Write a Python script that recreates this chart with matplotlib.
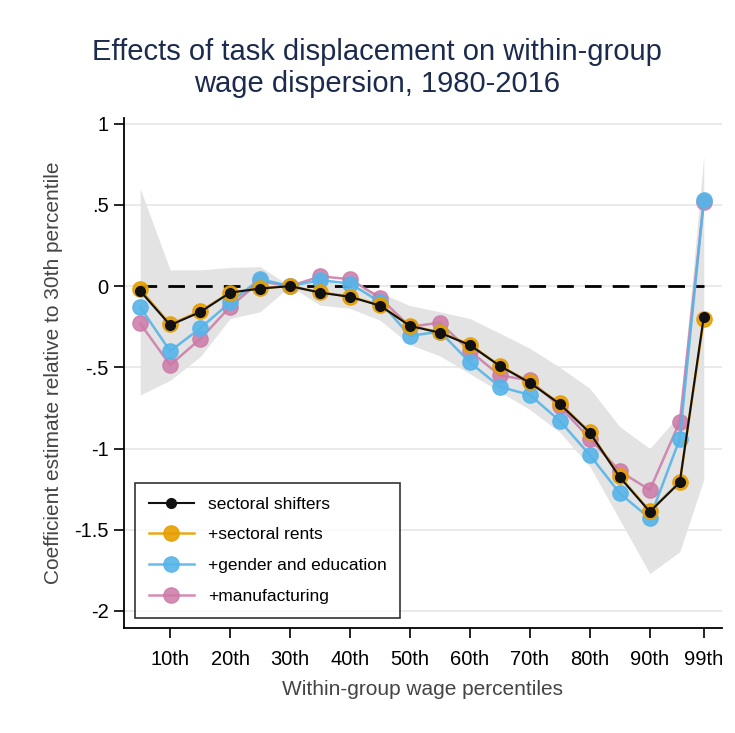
import matplotlib
matplotlib.use("Agg")
from matplotlib import pyplot as plt

plt.rcParams['font.family'] = ['Liberation Sans', 'DejaVu Sans']

pct = [5, 10, 15, 20, 25, 30, 35, 40, 45, 50, 55, 60, 65, 70, 75, 80, 85, 90, 95, 99]

shifters = [-0.03, -0.24, -0.16, -0.04, -0.015, 0.0, -0.04, -0.066, -0.12, -0.245,
            -0.287, -0.363, -0.492, -0.595, -0.726, -0.903, -1.177, -1.389, -1.208, -0.189]
rents = [-0.02, -0.235, -0.155, -0.04, -0.012, 0.0, -0.038, -0.064, -0.118, -0.243,
         -0.285, -0.36, -0.49, -0.592, -0.722, -0.9, -1.172, -1.385, -1.205, -0.205]
gender_edu = [-0.13, -0.40, -0.26, -0.10, 0.043, 0.0, 0.037, 0.016, -0.097, -0.306,
              -0.28, -0.47, -0.62, -0.67, -0.83, -1.04, -1.276, -1.43, -0.94, 0.53]
manuf = [-0.23, -0.486, -0.326, -0.127, 0.03, 0.0, 0.06, 0.043, -0.072, -0.25,
         -0.225, -0.40, -0.55, -0.58, -0.74, -0.94, -1.14, -1.255, -0.835, 0.52]

ci_hi = [0.60, 0.10, 0.10, 0.115, 0.12, 0.0, 0.035, 0.005, -0.04, -0.12,
         -0.158, -0.20, -0.29, -0.383, -0.50, -0.63, -0.866, -1.0, -0.79, 0.80]
ci_lo = [-0.67, -0.58, -0.435, -0.20, -0.158, 0.0, -0.117, -0.137, -0.21, -0.36,
         -0.43, -0.54, -0.65, -0.76, -0.90, -1.11, -1.44, -1.77, -1.635, -1.19]

xticks = [10, 20, 30, 40, 50, 60, 70, 80, 90, 99]
xlabels = ['10th', '20th', '30th', '40th', '50th', '60th', '70th', '80th', '90th', '99th']
yticks = [1, 0.5, 0, -0.5, -1, -1.5, -2]
ylabels = ['1', '.5', '0', '-.5', '-1', '-1.5', '-2']

fig = plt.figure(figsize=(7.35, 7.33), dpi=100)
ax = fig.add_axes([0.1687, 0.1432, 0.8133, 0.6958])

ax.fill_between(pct, ci_lo, ci_hi, color='#e3e3e3', lw=0, zorder=1)
ax.hlines(0, 5, 99, colors='black', linestyles=(0, (6, 4)), lw=2, zorder=2)

ax.plot(pct, manuf, '-o', color='#CC79A7', ms=11, lw=1.8, alpha=0.85, label='+manufacturing', zorder=3)
ax.plot(pct, gender_edu, '-o', color='#56B4E9', ms=11, lw=1.8, alpha=0.9, label='+gender and education', zorder=4)
ax.plot(pct, rents, '-o', color='#E69F00', ms=11, lw=1.8, alpha=0.9, label='+sectoral rents', zorder=5)
ax.plot(pct, shifters, '-o', color='#111111', ms=7, lw=1.5, label='sectoral shifters', zorder=6)

ax.set_xlim(2.3, 102)
ax.set_ylim(-2.105, 1.035)
ax.set_xticks(xticks)
ax.set_xticklabels(xlabels, fontsize=14.5)
ax.set_yticks(yticks)
ax.set_yticklabels(ylabels, fontsize=14.5)
ax.tick_params(length=7, width=1.2)
ax.tick_params(axis='x', pad=9)
ax.tick_params(axis='y', pad=4)
ax.grid(axis='y', color='#e6e6e6', lw=1.2)
ax.set_axisbelow(True)
for s in ['top', 'right']:
    ax.spines[s].set_visible(False)
for s in ['left', 'bottom']:
    ax.spines[s].set_linewidth(1.3)

ax.set_xlabel('Within-group wage percentiles', fontsize=15, color='#444444', labelpad=8)
ax.set_ylabel('Coefficient estimate relative to 30th percentile', fontsize=15, color='#444444', labelpad=8)
fig.text(0.513, 0.907, 'Effects of task displacement on within-group\nwage dispersion, 1980-2016',
         fontsize=21, color='#1c2b4d', ha='center', va='center', linespacing=1.2)

handles, labels = ax.get_legend_handles_labels()
order = [3, 2, 1, 0]
leg = ax.legend([handles[i] for i in order], [labels[i] for i in order],
                loc='lower left', bbox_to_anchor=(0.018, 0.02), borderaxespad=0,
                fontsize=12.5, frameon=True, fancybox=False, edgecolor='black',
                handlelength=2.6, borderpad=0.8, labelspacing=0.9)
leg.get_frame().set_linewidth(1.2)

fig.savefig('out.png', dpi=100, facecolor='white')
